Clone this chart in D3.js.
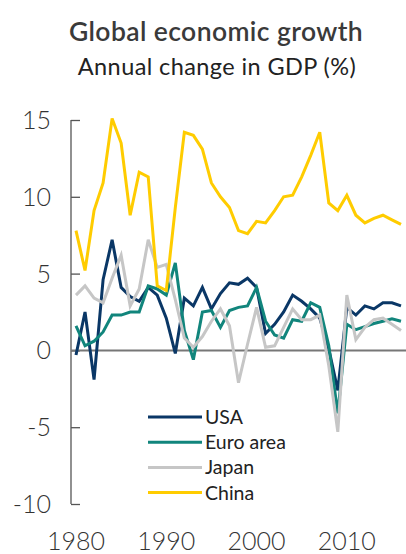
<!DOCTYPE html>
<html lang="en">
<head>
	<meta charset="UTF-8">
	<title>Global economic growth</title>
	<script src="https://d3js.org/d3.v7.min.js"></script>
	<style>
		* {
			margin: 0px;
			padding: 0px;
		}
		body {
			background: #fff;
		}
		text {
			font-family: Lato, "Open Sans", sans-serif;
		}
	</style>
</head>
<body>
	<svg width="406" height="554"></svg>
	<script>
		// data
		var years = d3.range(1980, 2017);
		var usa = [-0.3, 2.5, -1.9, 4.6, 7.2, 4.1, 3.5, 3.2, 4.1, 3.6, 2.1, -0.2, 3.4, 2.9, 4.1, 2.7, 3.7, 4.4, 4.3, 4.7, 4.1, 1.1, 1.7, 2.5, 3.6, 3.2, 2.7, 2.1, 0.1, -2.6, 2.8, 2.3, 2.9, 2.7, 3.1, 3.1, 2.9];
		var euro = [1.6, 0.3, 0.6, 1.2, 2.3, 2.3, 2.5, 2.5, 4.2, 4.0, 3.6, 5.7, 1.3, -0.6, 2.5, 2.6, 1.5, 2.6, 2.8, 2.9, 4.1, 1.9, 1.0, 0.8, 2.0, 1.9, 3.1, 2.8, 0.3, -4.1, 1.7, 1.35, 1.55, 1.75, 1.9, 2.05, 1.9];
		var japan = [3.6, 4.2, 3.4, 3.1, 4.7, 6.2, 2.9, 4.0, 7.2, 5.4, 5.6, 3.3, 0.8, 0.2, 0.9, 1.9, 2.7, 1.6, -2.1, 0.4, 2.8, 0.2, 0.3, 1.5, 2.7, 2.0, 2.0, 2.3, -1.0, -5.3, 3.6, 0.7, 1.5, 2.0, 2.1, 1.7, 1.3];
		var china = [7.8, 5.2, 9.1, 10.9, 15.1, 13.5, 8.8, 11.6, 11.3, 4.2, 3.9, 9.3, 14.2, 14.0, 13.1, 10.9, 10.0, 9.3, 7.8, 7.6, 8.4, 8.3, 9.1, 10.0, 10.1, 11.3, 12.7, 14.2, 9.6, 9.1, 10.1, 8.8, 8.3, 8.6, 8.8, 8.5, 8.2];

		var seriesNames = ["USA", "Euro area", "Japan", "China"];
		var seriesValues = [usa, euro, japan, china];
		var seriesColors = ["#0a3766", "#11857c", "#c6c6c6", "#ffcc00"];

		var yTicks = [15, 10, 5, 0, -5, -10];
		var xTicks = [1980, 1990, 2000, 2010];

		var svg = d3.select("svg");

		var x = d3.scaleLinear()
			.domain([1980, 2016])
			.range([76, 401]);

		var y = d3.scaleLinear()
			.domain([-10, 15])
			.range([504, 120]);

		// titles
		svg.append("text")
			.attr("x", 216)
			.attr("y", 41)
			.attr("text-anchor", "middle")
			.attr("font-size", 26.5)
			.attr("font-weight", 600)
			.attr("letter-spacing", 0.4)
			.attr("fill", "#3a3a3a")
			.text("Global economic growth");

		svg.append("text")
			.attr("x", 217)
			.attr("y", 75)
			.attr("text-anchor", "middle")
			.attr("font-size", 23.5)
			.attr("letter-spacing", 0.4)
			.attr("fill", "#222")
			.text("Annual change in GDP (%)");

		// y axis, ticks pointing right
		var yAxis = d3.axisRight(y)
			.tickValues(yTicks)
			.tickSize(9)
			.tickFormat("");

		var yg = svg.append("g")
			.attr("transform", "translate(71,0)")
			.call(yAxis);
		yg.select(".domain").remove();
		yg.selectAll("line").attr("stroke", "#555").attr("stroke-width", 1.3);

		svg.append("line")
			.attr("x1", 71).attr("x2", 71)
			.attr("y1", y(15)).attr("y2", y(-10))
			.attr("stroke", "#555")
			.attr("stroke-width", 1.3);

		svg.selectAll(".ylab")
			.data(yTicks)
			.enter()
			.append("text")
			.attr("class", "ylab")
			.attr("x", 51)
			.attr("y", (d) => y(d) + 9)
			.attr("text-anchor", "end")
			.attr("font-size", 25)
			.attr("font-weight", 300)
			.attr("fill", "#333")
			.text((d) => d);

		// x tick labels only
		svg.selectAll(".xlab")
			.data(xTicks)
			.enter()
			.append("text")
			.attr("class", "xlab")
			.attr("x", (d) => x(d))
			.attr("y", 550)
			.attr("text-anchor", "middle")
			.attr("font-size", 25)
			.attr("font-weight", 300)
			.attr("fill", "#333")
			.text((d) => d);

		// zero line
		svg.append("line")
			.attr("x1", 71).attr("x2", 406)
			.attr("y1", y(0)).attr("y2", y(0))
			.attr("stroke", "#777")
			.attr("stroke-width", 2);

		var line = d3.line()
			.x((d, i) => x(years[i]))
			.y((d) => y(d));

		svg.selectAll(".series")
			.data(seriesValues)
			.enter()
			.append("path")
			.attr("class", "series")
			.attr("d", line)
			.attr("fill", "none")
			.attr("stroke", (d, i) => seriesColors[i])
			.attr("stroke-width", 3)
			.attr("stroke-linejoin", "miter");

		// legend
		var legend = svg.append("g");
		seriesNames.forEach(function (name, i) {
			var ly = 417 + i * 25.2;
			legend.append("line")
				.attr("x1", 148).attr("x2", 202)
				.attr("y1", ly).attr("y2", ly)
				.attr("stroke", seriesColors[i])
				.attr("stroke-width", 3);
			legend.append("text")
				.attr("x", 205)
				.attr("y", ly + 7)
				.attr("font-size", 19.5)
				.attr("fill", "#222")
				.text(name);
		});
	</script>
</body>
</html>
